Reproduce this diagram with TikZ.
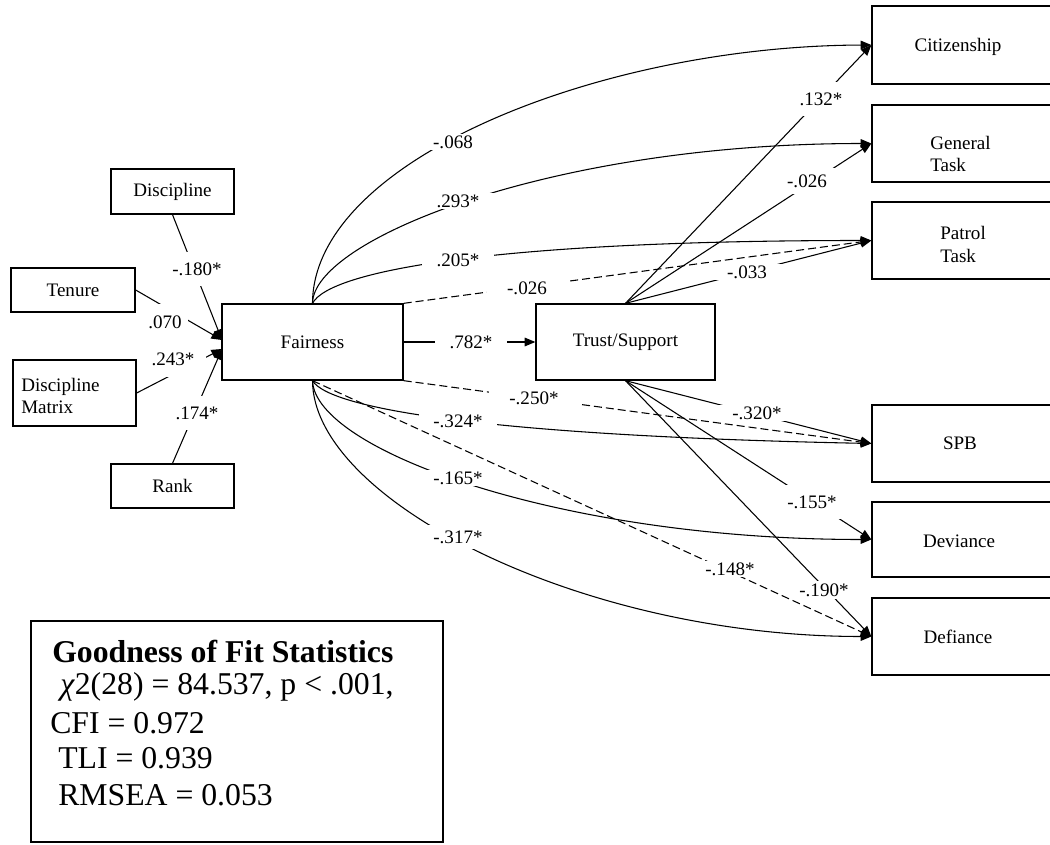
\documentclass[tikz,border=0pt]{standalone}
\usepackage{fontspec}
\setmainfont{Liberation Serif}
\usetikzlibrary{arrows.meta,calc}
\newdimen\upx \upx=0.75pt
\newcommand{\lblfont}{\fontsize{14.3}{17}\selectfont}
\newcommand{\goffont}{\fontsize{23.8}{28}\selectfont}
\begin{document}
\begin{tikzpicture}[x=0.75pt,y=-0.75pt,
  box/.style={draw,line width=1pt,inner sep=0pt,font=\lblfont,align=center},
  txt/.style={inner sep=0pt,font=\lblfont,align=left},
  conn/.style={line width=0.8pt,-{Triangle[length=8pt,width=6.5pt]}},
  dconn/.style={conn,dash pattern=on 6pt off 3pt},
  lab/.style={fill=white,inner xsep=7pt,inner ysep=1.5pt,font=\lblfont,text height=9.5pt,text depth=0pt},
  gofline/.style={inner sep=0pt,anchor=base west,font=\goffont}]
\useasboundingbox (0,0) rectangle (1050,845);
\clip (0,0) rectangle (1050,845);

% predictors
\node[box,minimum width=123\upx,minimum height=45\upx] (disc) at (172.5,191.5) {Discipline};
\node[box,minimum width=124\upx,minimum height=44\upx] (ten) at (73,290) {Tenure};
\node[box,minimum width=123\upx,minimum height=66\upx] (dm) at (74.5,393) {};
\node[txt,anchor=west] (dmT) at (21,396) {Discipline\\Matrix};
\node[box,minimum width=123\upx,minimum height=44\upx] (rank) at (172.5,486) {Rank};

% mediators
\node[box,minimum width=181\upx,minimum height=76\upx] (fair) at (312.5,342) {Fairness};
\node[box,minimum width=179\upx,minimum height=76\upx] (trust) at (625.5,342) {Trust/Support};

% outcomes (boxes run past the right edge)
\node[box,minimum width=198\upx,minimum height=78\upx] (cit) at (971,45) {};
\node[txt] (citT) at (958,47) {Citizenship};
\node[box,minimum width=198\upx,minimum height=77\upx] (gen) at (971,143.5) {};
\node[txt,anchor=west] (genT) at (930,154) {General\\Task};
\node[box,minimum width=198\upx,minimum height=77\upx] (pat) at (971,240.5) {};
\node[txt,anchor=west] (patT) at (940,244.5) {Patrol\\Task};
\node[box,minimum width=198\upx,minimum height=77\upx] (spb) at (971,443.5) {};
\node[txt] (spbT) at (960,443) {SPB};
\node[box,minimum width=198\upx,minimum height=75\upx] (dev) at (971,539.5) {};
\node[txt] (devT) at (959,541) {Deviance};
\node[box,minimum width=198\upx,minimum height=77\upx] (def) at (971,636.5) {};
\node[txt] (defT) at (958,637) {Defiance};

% arrow ends at the left side of Fairness
\coordinate (fin1) at (222,340);
\coordinate (fin2) at (222,349);

% predictors -> Fairness
\draw[conn] (disc.south) -- (fin1);
\draw[conn] (ten.east) -- (fin1);
\draw[conn] (dm.east) -- (fin2);
\draw[conn] (rank.north) -- (fin2);

% Fairness -> Trust/Support
\draw[conn] (fair.east) -- (trust.west);

% Fairness -> outcomes (direct paths)
\draw[conn] (fair.north) .. controls (313,160) and (600,46) .. (cit.west);
\draw[conn] (fair.north) .. controls (313,240) and (550,143.5) .. (gen.west);
\draw[conn] (fair.north) .. controls (330,270) and (500,240.5) .. (pat.west);
\draw[dconn] (fair.north east) -- (pat.west);
\draw[dconn] (fair.south east) -- (spb.west);
\draw[conn] (fair.south) .. controls (330,410) and (500,436) .. (spb.west);
\draw[conn] (fair.south) .. controls (315,450) and (560,539.5) .. (dev.west);
\draw[conn] (fair.south) .. controls (313,500) and (580,636.5) .. (def.west);
\draw[dconn] (fair.south) -- (def.west);

% Trust/Support -> outcomes
\draw[conn] (trust.north) -- (cit.west);
\draw[conn] (trust.north) -- (gen.west);
\draw[conn] (trust.north) -- (pat.west);
\draw[conn] (trust.south) -- (spb.west);
\draw[conn] (trust.south) -- (dev.west);
\draw[conn] (trust.south) -- (def.west);

% path coefficients
\node[lab,inner xsep=4pt,inner ysep=8pt] (l180) at (197,269) {-.180*};
\node[lab,inner xsep=5pt,inner ysep=9pt] (l070) at (165,322) {.070};
\node[lab,inner xsep=9pt,inner ysep=9pt] (l243) at (173,359) {.243*};
\node[lab,inner xsep=4pt,inner ysep=8pt] (l174) at (197,413) {.174*};
\node[lab,inner xsep=11pt] (l782) at (471,342) {.782*};
\node[lab,inner xsep=6pt] (l068) at (453,142) {-.068};
\node[lab,inner xsep=11pt] (l293) at (458,201) {.293*};
\node[lab,inner xsep=11pt] (l205) at (458,260) {.205*};
\node[lab,inner xsep=15pt,inner ysep=1pt] (l026a) at (527,288) {-.026};
\node[lab,inner xsep=15pt] (l250) at (534,398) {-.250*};
\node[lab,inner xsep=11pt] (l324) at (458,421) {-.324*};
\node[lab,inner xsep=11pt] (l165) at (458,478) {-.165*};
\node[lab,inner xsep=8pt,inner ysep=4pt] (l317) at (458,537) {-.317*};
\node[lab,inner xsep=10pt] (l148) at (730,569) {-.148*};
\node[lab,inner xsep=4pt,inner ysep=8pt] (l132) at (821,99) {.132*};
\node[lab,inner xsep=6pt,inner ysep=5pt] (l026b) at (807,181) {-.026};
\node[lab,inner xsep=14pt,inner ysep=1pt] (l033) at (747,272) {-.033};
\node[lab,inner xsep=12pt,inner ysep=1pt] (l320) at (757,413) {-.320*};
\node[lab,inner xsep=4pt,inner ysep=8pt] (l155) at (812,502) {-.155*};
\node[lab,inner xsep=4pt,inner ysep=2pt] (l190) at (824,590) {-.190*};

% fit statistics
\node[draw,line width=1.5pt,inner sep=0pt,minimum width=412\upx,minimum height=221\upx] (gof) at (237,731.5) {};
\node[gofline] (gof1) at (52,662) {\textbf{Goodness of Fit Statistics}};
\node[gofline] (gof2) at (60,694) {\textit{χ}2(28) = 84.537, p < .001,};
\node[gofline] (gof3) at (50,733) {CFI = 0.972};
\node[gofline] (gof4) at (58,768) {TLI = 0.939};
\node[gofline] (gof5) at (58,805) {RMSEA = 0.053};
\end{tikzpicture}
\end{document}
